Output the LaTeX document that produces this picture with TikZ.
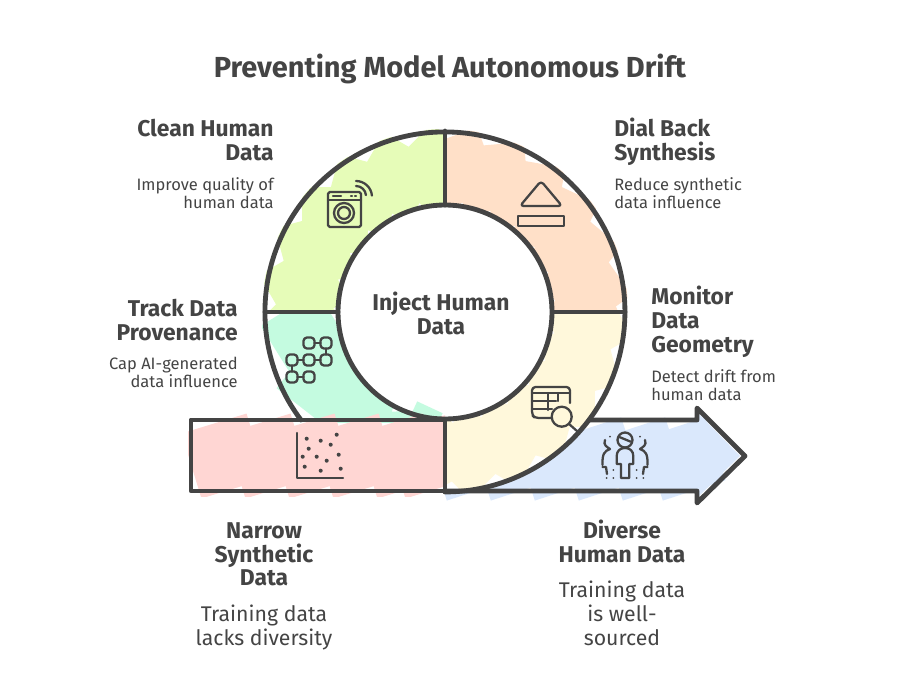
\documentclass[tikz,border=0pt]{standalone}
\usepackage{fontspec}
\setmainfont{Fira Sans}
\usepackage{xcolor}
\usetikzlibrary{calc}
\definecolor{inkgrey}{RGB}{68, 68, 68}
\definecolor{redfill}{RGB}{255, 214, 211}
\definecolor{mintfill}{RGB}{196, 251, 224}
\definecolor{limefill}{RGB}{230, 252, 184}
\definecolor{peachfill}{RGB}{255, 224, 200}
\definecolor{creamfill}{RGB}{255, 248, 219}
\definecolor{bluefill}{RGB}{218, 232, 252}
\tikzset{
  outline/.style={draw=inkgrey, line width=2.75pt, line join=round, line cap=round},
  iconline/.style={draw=inkgrey, line width=1.3pt, line join=round, line cap=round},
  headtext/.style={font=\fontsize{13}{13.6}\selectfont\bfseries, text=inkgrey, inner sep=0pt},
  desctext/.style={font=\fontsize{9.4}{10.2}\selectfont, text=inkgrey, inner sep=0pt},
  bigdesctext/.style={font=\fontsize{12.1}{13.6}\selectfont, text=inkgrey, inner sep=0pt},
}
\newcommand{\patch}[5]{\fill[#1, shift={(#2,#3)}, rotate=#4] (-#5,-#5) rectangle (#5,#5);}

\begin{document}
\begin{tikzpicture}[x=0.02cm, y=-0.02cm]
\useasboundingbox (0,0) rectangle (900,696);

% Blue arrow fill, under the ring
\fill[bluefill] (697,426) -- (697,412) -- (740,456) -- (697,498) -- (697,487) -- cycle;
\begin{scope}
\clip (445,414) rectangle (735,506);
\foreach \px in {468, 512, 556, 600, 644, 684} {
  \patch{bluefill}{\px}{459}{18}{33}
}
\end{scope}

% Mint segment
\begin{scope}
\clip (262,312) rectangle (445,422);
\foreach \pa in {190, 210, 230, 250, 270} {
  \patch{mintfill}{{445+141*cos(\pa)}}{{312-141*sin(\pa)}}{\pa+22}{33}
}
\patch{mintfill}{345}{385}{-30}{36}
\end{scope}

% Lime segment
\begin{scope}
\clip (445,312) -- (262,312) arc[start angle=180, end angle=270, radius=183] -- cycle;
\foreach \pa in {95, 110, 125, 140, 155, 170, 185} {
  \patch{limefill}{{445+143*cos(\pa)}}{{312-143*sin(\pa)}}{\pa+40}{33}
}
\end{scope}

% Peach segment
\begin{scope}
\clip (445,312) -- (445,129) arc[start angle=270, end angle=360, radius=183] -- cycle;
\foreach \pa in {-5, 10, 25, 40, 55, 70, 85} {
  \patch{peachfill}{{445+143*cos(\pa)}}{{312-143*sin(\pa)}}{\pa+25}{33}
}
\end{scope}

% Cream segment, over the blue
\fill[white] (445,312) -- (445,492) arc[start angle=90, end angle=0, radius=180] -- cycle;
\begin{scope}
\clip (445,312) -- (445,492) arc[start angle=90, end angle=0, radius=180] -- cycle;
\foreach \pa in {-5, -20, -35, -50, -65, -80, -95} {
  \patch{creamfill}{{445+143*cos(\pa)}}{{312-143*sin(\pa)}}{\pa+35}{33}
}
\end{scope}

% Middle of the ring
\fill[white] (445,312) circle (107);
\patch{mintfill}{424}{420}{-25}{14}

% Red bar fill
\begin{scope}
\clip (188,412) rectangle (445,496);
\foreach \px in {224, 268, 312, 356, 400, 428} {
  \patch{redfill}{\px}{456}{17}{34}
}
\end{scope}

% Ring, bar and arrow outlines
\draw[outline] (301,420) arc[start angle=143.1, end angle=450, radius=180];
\draw[outline] (445,312) circle (107);
\draw[outline] (445,131) -- (445,205);
\draw[outline] (265,312) -- (338,312);
\draw[outline] (553,312) -- (625,312);
\draw[outline] (191,420) rectangle (445,491);
\draw[outline] (589,420) -- (697,420) -- (697,408) -- (745,456) -- (697,503) -- (697,491) -- (445,491);

% Washer icon
\draw[iconline, rounded corners=1pt] (328,192) rectangle (361,227);
\draw[iconline] (328,200) -- (361,200);
\draw[iconline] (333,196) -- (341,196);
\draw[iconline] (351,196) -- (352,196);
\draw[iconline] (355,196) -- (356,196);
\draw[iconline] (344,213) circle (10);
\draw[iconline] (344,213) circle (6);
\draw[iconline] (356,186) arc[start angle=-90, end angle=-5, radius=10];
\draw[iconline] (356,181) arc[start angle=-90, end angle=-5, radius=16];

% Eject icon
\draw[iconline, rounded corners=2pt] (541,181) -- (562,206) -- (520,206) -- cycle;
\draw[iconline] (518,216) rectangle (564,226);

% Provenance icon
\foreach \bx/\by in {309/343, 326/343, 292/360, 309/360, 326/360, 292/377, 309/377} {
  \draw[iconline, rounded corners=2pt] (\bx-5.5,\by-5.5) rectangle (\bx+5.5,\by+5.5);
}
\draw[iconline] (314.5,343) -- (320.5,343);
\draw[iconline] (326,348.5) -- (326,354.5);
\draw[iconline] (297.5,360) -- (303.5,360);
\draw[iconline] (314.5,360) -- (320.5,360);
\draw[iconline] (292,365.5) -- (292,371.5);
\draw[iconline] (297.5,377) -- (303.5,377);

% Scatter icon
\draw[iconline] (297,433) -- (297,478) -- (343,478);
\foreach \dx/\dy in {306.7/438.7, 320.7/440.7, 336.7/434.7, 330.7/444.7, 308.7/448.7, 338.7/454.7,
                     302.7/456.7, 316.7/456.7, 326.7/460.7, 304.7/466.7, 340.7/468.7, 320.7/470.7} {
  \fill[inkgrey] (\dx,\dy) circle (2);
}

% Table and magnifier icon
\draw[iconline, rounded corners=2pt] (552,418) -- (535,418) -- (532,415) -- (532,387) -- (570,387) -- (570,403);
\draw[iconline] (532,393) -- (570,393);
\draw[iconline] (532,401) -- (556,401);
\draw[iconline] (532,409) -- (552,409);
\draw[iconline] (548,393) -- (548,410);
\draw[iconline] (558,393) -- (558,401);
\draw[iconline] (561.7,416.7) circle (10);
\draw[iconline] (569,424) -- (577,431);

% People icon
\draw[iconline] (625,440) circle (7.5);
\draw[iconline] (619.3,437) -- (630.7,441.7);
\draw[iconline] (621,478) -- (621,464) -- (616.7,464) -- (616.7,456) .. controls (616.7,451) and (620,448) .. (625,448)
  .. controls (630,448) and (633.3,451) .. (633.3,456) -- (633.3,464) -- (629.3,464) -- (629.3,478) -- cycle;
\foreach \sx/\sd in {0/1, 1250/-1} {
  \draw[iconline] (\sx+\sd*605,440) .. controls (\sx+\sd*603,445) and (\sx+\sd*607,447) .. (\sx+\sd*610,449)
    .. controls (\sx+\sd*605,451) and (\sx+\sd*602,453) .. (\sx+\sd*602.5,465);
  \draw[iconline] (\sx+\sd*602.5,467) -- (\sx+\sd*606,467) -- (\sx+\sd*607,474);
  \fill[inkgrey] (\sx+\sd*610,436.7) circle (1);
  \fill[inkgrey] (\sx+\sd*613.3,470) circle (1);
  \fill[inkgrey] (\sx+\sd*606.7,478) circle (1);
  \fill[inkgrey] (\sx+\sd*613.3,478) circle (1);
}

% Labels
\node[font=\fontsize{16.5}{18}\selectfont\bfseries, text=inkgrey, inner sep=0pt] (titletext) at (450,69) {Preventing Model Autonomous Drift};

\node[headtext, align=right, anchor=north east] (cleanhead) at (274,119) {Clean Human\\Data};
\node[desctext, align=right, anchor=north east] (cleandesc) at (274,177) {Improve quality of\\human data};

\node[headtext, align=left, anchor=north west] (dialhead) at (614,118) {Dial Back\\Synthesis};
\node[desctext, align=left, anchor=north west] (dialdesc) at (614,177) {Reduce synthetic\\data influence};

\node[headtext, align=left, anchor=north west] (monitorhead) at (651,286) {Monitor\\Data\\Geometry};
\node[desctext, align=left, anchor=north west] (monitordesc) at (651,369) {Detect drift from\\human data};

\node[headtext, align=right, anchor=north east] (trackhead) at (238,299) {Track Data\\Provenance};
\node[desctext, align=right, anchor=north east] (trackdesc) at (238,357) {Cap AI-generated\\data influence};

\node[headtext, align=center] (injecttext) at (441,313) {Inject Human\\Data};

\node[headtext, align=center, anchor=north] (narrowhead) at (264,522) {Narrow\\Synthetic\\Data};
\node[bigdesctext, align=center, anchor=north] (narrowdesc) at (264,605) {Training data\\lacks diversity};

\node[headtext, align=center, anchor=north] (diversehead) at (622,520) {Diverse\\Human Data};
\node[bigdesctext, align=center, anchor=north] (diversedesc) at (622,581) {Training data\\is well-\\sourced};

\end{tikzpicture}
\end{document}
